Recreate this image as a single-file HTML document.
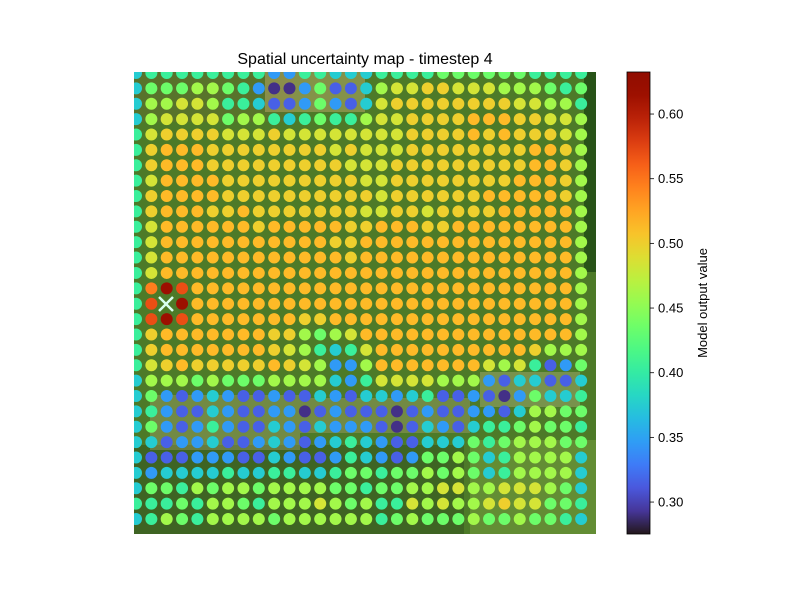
<!DOCTYPE html>
<html><head><meta charset="utf-8"><style>
body{margin:0;background:#fff;font-family:"Liberation Sans",sans-serif}
</style></head><body>
<svg id="chart" width="800" height="600" xmlns="http://www.w3.org/2000/svg" style="display:block">
<rect width="800" height="600" fill="#fff"/>
<text x="365" y="64" text-anchor="middle" font-size="16" font-family="Liberation Sans, sans-serif">Spatial uncertainty map - timestep 4</text>
<g id="bg">
<rect x="134" y="72" width="462" height="462" fill="#4d7a28"/>
<rect x="584" y="72" width="12" height="200" fill="#1f4a14" opacity="0.8"/>
<rect x="134" y="72" width="160" height="50" fill="#6a6a30" opacity="0.4"/>
<rect x="134" y="445" width="330" height="89" fill="#2c4a1c" opacity="0.45"/>
<rect x="470" y="440" width="126" height="94" fill="#7aa040" opacity="0.5"/>
<rect x="265" y="72" width="100" height="40" fill="#c8b070" opacity="0.45"/>
<rect x="150" y="395" width="150" height="55" fill="#b8a878" opacity="0.35"/>
<rect x="300" y="398" width="170" height="35" fill="#b8a878" opacity="0.35"/>
<rect x="480" y="372" width="100" height="35" fill="#c8c090" opacity="0.35"/>
</g>
<g id="dots"></g>
<g id="marker">
<line x1="159" y1="297" x2="173" y2="311" stroke="#d8fff0" stroke-width="2.5"/>
<line x1="173" y1="297" x2="159" y2="311" stroke="#d8fff0" stroke-width="2.5"/>
</g>
<defs><linearGradient id="cbgrad" x1="0" y1="1" x2="0" y2="0"></linearGradient></defs>
<rect x="627" y="72" width="23" height="462" fill="url(#cbgrad)" stroke="#000" stroke-width="0.8"/>
<g id="cbticks"></g>
<text transform="translate(707,303) rotate(-90)" text-anchor="middle" font-size="13" font-family="Liberation Sans, sans-serif">Model output value</text>
</svg>
<script>
const gridRows = [
"344444444224433344445555554444",
"355566542002511367788777666545",
"366776443112521378888888877664",
"367777566434544677888899988776",
"478888777877777777888898988876",
"489998888888878777888888889986",
"489998888888887778888888889986",
"479999888888888778888888899986",
"489999888888888878888889999986",
"489998898888888778878888999996",
"479999998999998899988999999996",
"479999999999988999999999999996",
"479999999999998999999999999996",
"479999999999999999999999999996",
"4ODR99999999999999999999999996",
"4RXD99999999999999999999999996",
"4RDR99999998899999999999999996",
"489999999886567999999999999996",
"489999999876434799999999998666",
"478988888987622699999997674125",
"366656555666632477776662133113",
"352123211211321332341121025334",
"342113211220121110121122136655",
"352124211321322210132134456554",
"331223112321234321133354566655",
"311122211321124321255653466663",
"323333433443345545565653466663",
"355465665666655455667766777653",
"444546654666765644767667877554",
"346546666566666645655565565543"
];
const codeValues = {"0":0.29,"1":0.315,"2":0.345,"3":0.375,"4":0.405,"5":0.435,"6":0.46,"7":0.484,"8":0.5,"9":0.513,"O":0.545,"R":0.57,"D":0.615};
const cbTicks = [0.30,0.35,0.40,0.45,0.50,0.55,0.60];
const vmin = 0.2753, vmax = 0.6325;

function turbo(t){
  t=Math.max(0,Math.min(1,t));
  const r=34.61+t*(1172.33-t*(10793.56-t*(33300.12-t*(38394.49-t*14825.05))));
  const g=23.31+t*(557.33+t*(1225.33-t*(3574.96-t*(1073.77+t*707.56))));
  const b=27.2+t*(3211.1-t*(15327.97-t*(27814-t*(22569.18-t*6838.66))));
  const c=v=>Math.max(0,Math.min(255,Math.round(v)));
  return `rgb(${c(r)},${c(g)},${c(b)})`;
}
const ns="http://www.w3.org/2000/svg";
const xCol = i => 136 + 15.35*i;
const yRow = j => 73 + 15.38*j;
const cbY = v => 534 - (v-vmin)/(vmax-vmin)*462;

const dots=document.getElementById('dots');
gridRows.forEach((row,j)=>{
  [...row].forEach((ch,i)=>{
    const v=codeValues[ch];
    if(v===undefined) return;
    const c=document.createElementNS(ns,'circle');
    
    
    c.setAttribute('cx',xCol(i));
    c.setAttribute('cy',yRow(j));
    c.setAttribute('r',6);
    c.setAttribute('fill',turbo((v-vmin)/(vmax-vmin)));
    dots.appendChild(c);
  });
});
const cp=document.createElementNS(ns,'clipPath');cp.setAttribute('id','clipimg');
const cr=document.createElementNS(ns,'rect');cr.setAttribute('x',134);cr.setAttribute('y',72);cr.setAttribute('width',462);cr.setAttribute('height',462);
cp.appendChild(cr);document.querySelector('defs').appendChild(cp);
dots.setAttribute('clip-path','url(#clipimg)');

const grad=document.getElementById('cbgrad');
for(let k=0;k<=20;k++){
  const s=document.createElementNS(ns,'stop');
  s.setAttribute('offset',k/20);
  s.setAttribute('stop-color',turbo(k/20));
  grad.appendChild(s);
}
const tg=document.getElementById('cbticks');
cbTicks.forEach(v=>{
  const y=cbY(v);
  const l=document.createElementNS(ns,'line');
  
  
  l.setAttribute('x1',650);l.setAttribute('x2',654);l.setAttribute('y1',y);l.setAttribute('y2',y);
  l.setAttribute('stroke','#000');l.setAttribute('stroke-width',0.8);
  tg.appendChild(l);
  const t=document.createElementNS(ns,'text');
  
  
  t.setAttribute('x',658);t.setAttribute('y',y+4.5);
  t.setAttribute('font-size','13');
  t.setAttribute('font-family','Liberation Sans, sans-serif');
  t.textContent=v.toFixed(2);
  tg.appendChild(t);
});
</script>
</body></html>
